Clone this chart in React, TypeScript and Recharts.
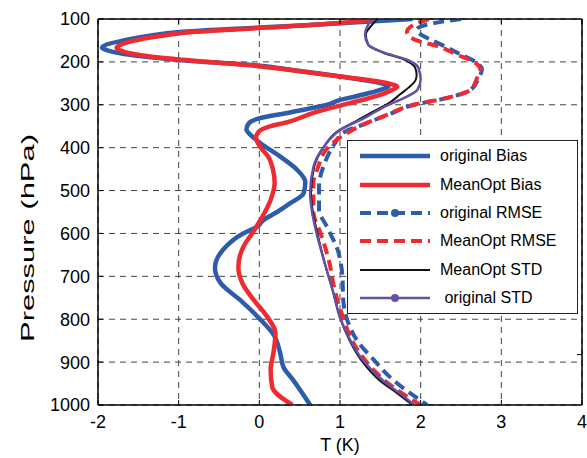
import React from "react";
import { LineChart, Line, XAxis, YAxis, CartesianGrid, Legend, ReferenceArea } from "recharts";

const FONT = "Arial, 'Liberation Sans', sans-serif";
const BLUE = "#2d5caa";
const RED = "#ee2b31";
const PURPLE = "#6650a4";
const BLACK = "#111111";

const tTicks = [-2, -1, 0, 1, 2, 3, 4];
const pTicks = [100, 200, 300, 400, 500, 600, 700, 800, 900, 1000];

// original Bias
const origBiasP = [100, 110, 120, 130, 140, 150, 160, 167, 175, 183, 195, 209, 220, 234, 252, 258, 265, 280, 290, 300, 307, 319, 331, 343, 357, 370, 389, 421, 452, 480, 506, 530, 550, 569, 585, 600, 638, 680, 716, 755, 800, 837, 880, 912, 942, 1000];
const origBiasT = [1.9, 1.0, 0.0, -0.95, -1.4, -1.68, -1.9, -1.95, -1.85, -1.63, -1.04, 0.0, 0.45, 1.0, 1.55, 1.6, 1.5, 1.2, 0.98, 0.84, 0.67, 0.35, 0.01, -0.13, -0.16, -0.11, 0.01, 0.26, 0.47, 0.57, 0.55, 0.38, 0.22, 0.05, -0.03, -0.2, -0.45, -0.55, -0.48, -0.24, 0.01, 0.18, 0.26, 0.3, 0.42, 0.63];

// MeanOpt Bias
const optBiasP = [100, 110, 120, 130, 140, 150, 160, 167, 175, 185, 195, 210, 222, 235, 250, 258, 265, 277, 290, 302, 319, 340, 351, 363, 377, 398, 421, 452, 482, 522, 576, 600, 632, 678, 716, 755, 795, 832, 872, 918, 958, 1000];
const optBiasT = [1.45, 0.95, 0.1, -0.8, -1.25, -1.55, -1.72, -1.77, -1.7, -1.45, -0.95, 0.0, 0.5, 1.05, 1.6, 1.71, 1.65, 1.5, 1.25, 1.0, 0.67, 0.36, 0.12, -0.01, -0.04, 0.01, 0.11, 0.17, 0.19, 0.14, -0.01, -0.09, -0.2, -0.26, -0.21, -0.07, 0.1, 0.2, 0.18, 0.14, 0.16, 0.41];

// original RMSE
const origRmseP = [100, 110, 125, 136, 148, 164, 183, 200, 218, 237, 265, 284, 300, 323, 345, 365, 389, 436, 491, 545, 585, 638, 701, 755, 802, 849, 895, 935, 1000];
const origRmseT = [2.5, 2.15, 1.95, 2.0, 2.12, 2.3, 2.5, 2.68, 2.76, 2.72, 2.62, 2.33, 1.92, 1.6, 1.3, 1.04, 0.94, 0.81, 0.74, 0.74, 0.84, 0.97, 1.03, 1.04, 1.09, 1.21, 1.42, 1.62, 2.08];

// MeanOpt RMSE
const optRmseP = [100, 115, 130, 140, 150, 164, 183, 200, 218, 237, 265, 284, 300, 323, 345, 370, 400, 450, 483, 550, 600, 623, 678, 701, 763, 802, 850, 900, 950, 1000];
const optRmseT = [2.1, 1.9, 1.83, 1.86, 1.95, 2.22, 2.45, 2.66, 2.74, 2.7, 2.62, 2.33, 1.91, 1.59, 1.3, 1.05, 0.85, 0.72, 0.67, 0.67, 0.76, 0.8, 0.88, 0.9, 0.98, 1.05, 1.15, 1.33, 1.6, 2.0];

// MeanOpt STD
const optStdP = [100, 113, 136, 160, 178, 195, 213, 230, 241, 260, 275, 293, 316, 340, 360, 398, 445, 506, 545, 600, 662, 740, 796, 850, 897, 944, 974, 1000];
const optStdT = [1.46, 1.4, 1.32, 1.35, 1.53, 1.8, 1.93, 1.95, 1.94, 1.85, 1.75, 1.63, 1.41, 1.18, 0.98, 0.8, 0.68, 0.64, 0.66, 0.72, 0.8, 0.92, 1.0, 1.12, 1.27, 1.5, 1.72, 1.9];

// original STD
const origStdP = [100, 113, 136, 160, 178, 195, 213, 241, 265, 288, 300, 328, 359, 398, 445, 506, 545, 600, 662, 740, 796, 850, 897, 944, 974, 1000];
const origStdT = [1.44, 1.35, 1.31, 1.35, 1.54, 1.83, 1.97, 2.0, 1.96, 1.75, 1.6, 1.33, 1.0, 0.8, 0.67, 0.63, 0.65, 0.71, 0.8, 0.92, 1.0, 1.13, 1.29, 1.54, 1.75, 1.92];

const SERIES = [
  { key: "origBias", name: "original Bias", p: origBiasP, t: origBiasT, color: BLUE, width: 4.5, dash: undefined, dot: false },
  { key: "optBias", name: "MeanOpt Bias", p: optBiasP, t: optBiasT, color: RED, width: 4.5, dash: undefined, dot: false },
  { key: "origRmse", name: "original RMSE", p: origRmseP, t: origRmseT, color: BLUE, width: 4, dash: "11 6", dot: true },
  { key: "optRmse", name: "MeanOpt RMSE", p: optRmseP, t: optRmseT, color: RED, width: 4, dash: "11 6", dot: false },
  { key: "optStd", name: "MeanOpt STD", p: optStdP, t: optStdT, color: BLACK, width: 2, dash: undefined, dot: false },
  { key: "origStd", name: " original STD", p: origStdP, t: origStdT, color: PURPLE, width: 2.5, dash: undefined, dot: true },
];

const levels = Array.from(new Set(SERIES.flatMap((s) => s.p))).sort((a, b) => a - b);
const chartData = levels.map((p) => {
  const row: Record<string, number> = { p };
  SERIES.forEach((s) => {
    const i = s.p.indexOf(p);
    if (i >= 0) row[s.key] = s.t[i];
  });
  return row;
});

// ylabel in the source figure is stretched along its length
const renderYLabel = () => (
  <text
    x={27}
    y={238}
    transform="rotate(-90 27 238)"
    textAnchor="middle"
    dominantBaseline="central"
    fontSize={19}
    fontFamily={FONT}
    fill="#000"
    textLength={208}
    lengthAdjust="spacingAndGlyphs"
  >
    Pressure (hPa)
  </text>
);

const LegendBox = () => (
  <div
    style={{
      width: 231,
      height: 174,
      boxSizing: "border-box",
      border: "1px solid #222",
      background: "#fff",
      paddingTop: 1,
      fontFamily: FONT,
      fontSize: 16,
      color: "#000",
    }}
  >
    {SERIES.map((s) => (
      <div key={s.key} style={{ height: 28.4, display: "flex", alignItems: "center" }}>
        <svg width={70} height={12} style={{ marginLeft: 12, marginRight: 10 }}>
          <line x1={0} y1={6} x2={70} y2={6} stroke={s.color} strokeWidth={s.width} strokeDasharray={s.dash} />
          {s.dot && <circle cx={35} cy={6} r={4} fill={s.color} />}
        </svg>
        <span style={{ whiteSpace: "pre" }}>{s.name}</span>
      </div>
    ))}
  </div>
);

export default function App() {
  return (
    <div style={{ position: "absolute", left: 0, top: 0, background: "#fff" }}>
      <LineChart
        width={587}
        height={458}
        data={chartData}
        layout="vertical"
        margin={{ top: 0, right: 0, bottom: 0, left: 8 }}
      >
        <CartesianGrid stroke="#444" strokeDasharray="6 5" strokeWidth={1} />
        <XAxis
          type="number"
          domain={[-2, 4]}
          ticks={tTicks}
          allowDataOverflow
          height={53}
          tickSize={-5}
          tickMargin={15}
          stroke="#000"
          tick={{ fill: "#000", fontSize: 18, fontFamily: FONT }}
          label={{ value: "T (K)", position: "insideBottom", offset: 7, fill: "#000", fontSize: 18, fontFamily: FONT }}
        />
        <XAxis
          xAxisId="top"
          orientation="top"
          type="number"
          domain={[-2, 4]}
          ticks={tTicks}
          allowDataOverflow
          height={19}
          tickSize={-5}
          tickFormatter={() => ""}
          stroke="#000"
        />
        <YAxis
          type="number"
          dataKey="p"
          domain={[100, 1000]}
          ticks={pTicks}
          allowDataOverflow
          width={90}
          tickSize={-5}
          tickMargin={13}
          stroke="#000"
          tick={{ fill: "#000", fontSize: 18, fontFamily: FONT }}
          label={renderYLabel}
        />
        <YAxis
          yAxisId="right"
          orientation="right"
          type="number"
          domain={[100, 1000]}
          ticks={pTicks}
          allowDataOverflow
          width={5}
          tickSize={-5}
          tickFormatter={() => ""}
          stroke="#000"
        />
        <ReferenceArea x1={-2} x2={4} y1={100} y2={1000} fill="none" stroke="#000" strokeWidth={1} />
        {SERIES.map((s) => (
          <Line
            key={s.key}
            dataKey={s.key}
            name={s.name}
            type="monotone"
            stroke={s.color}
            strokeWidth={s.width}
            strokeDasharray={s.dash}
            strokeLinejoin="round"
            dot={false}
            activeDot={false}
            connectNulls
            isAnimationActive={false}
          />
        ))}
        <Legend
          layout="horizontal"
          verticalAlign="middle"
          align="center"
          content={() => <LegendBox />}
          wrapperStyle={{ left: 347, top: 140, width: 231, height: 174 }}
        />
      </LineChart>
    </div>
  );
}
